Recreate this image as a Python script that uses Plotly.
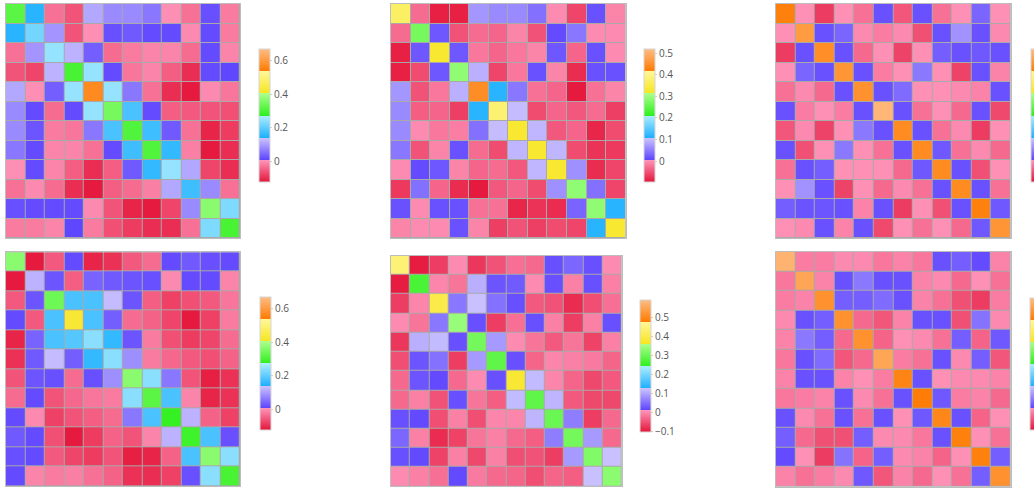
import plotly.graph_objects as go

# ---------------- data (12x12 matrices, rows listed top to bottom) ----------------
M1 = [
    [0.32, 0.15, -0.03, -0.06, 0.11, 0.08, 0.08, 0.06, 0.00, -0.03, 0.02, -0.02],
    [0.15, 0.22, 0.09, -0.06, 0.00, 0.02, 0.03, 0.015, 0.015, -0.005, 0.015, -0.02],
    [-0.03, 0.09, 0.25, 0.12, 0.035, -0.035, -0.02, -0.01, -0.01, -0.035, 0.015, -0.01],
    [-0.06, -0.075, 0.12, 0.30, 0.25, 0.015, -0.025, -0.01, -0.05, -0.10, 0.015, 0.01],
    [0.11, 0.00, 0.035, 0.25, 0.57, 0.25, 0.06, -0.03, -0.10, -0.12, -0.005, -0.025],
    [0.08, 0.015, -0.035, 0.015, 0.25, 0.35, 0.18, 0.015, -0.05, -0.055, -0.06, -0.065],
    [0.08, 0.025, -0.02, -0.025, 0.06, 0.18, 0.31, 0.17, 0.03, -0.03, -0.11, -0.085],
    [0.06, 0.015, -0.01, -0.01, -0.03, 0.015, 0.17, 0.31, 0.16, -0.015, -0.12, -0.10],
    [0.00, 0.015, -0.01, -0.05, -0.10, -0.05, 0.03, 0.16, 0.25, 0.11, -0.075, -0.10],
    [-0.03, -0.005, -0.035, -0.10, -0.12, -0.05, -0.035, -0.015, 0.11, 0.17, 0.08, -0.03],
    [0.02, 0.015, 0.015, 0.015, -0.005, -0.06, -0.11, -0.12, -0.075, 0.08, 0.37, 0.23],
    [-0.02, -0.02, -0.01, 0.01, -0.02, -0.065, -0.085, -0.10, -0.10, -0.03, 0.23, 0.30],
]

M2 = [
    [0.37, -0.03, -0.09, -0.09, 0.07, 0.06, 0.06, 0.04, -0.005, -0.06, 0.015, -0.01],
    [-0.03, 0.27, 0.02, -0.05, -0.03, -0.035, -0.01, -0.05, 0.01, 0.045, -0.005, -0.005],
    [-0.09, 0.02, 0.33, 0.02, -0.02, -0.035, -0.02, -0.01, 0.02, -0.035, 0.015, -0.005],
    [-0.09, -0.055, 0.02, 0.29, 0.09, -0.06, -0.02, 0.015, -0.01, -0.08, 0.015, 0.015],
    [0.07, -0.05, -0.02, 0.09, 0.445, 0.115, 0.045, -0.025, -0.035, -0.095, -0.025, -0.01],
    [0.06, -0.04, -0.035, -0.065, 0.115, 0.38, 0.10, -0.055, -0.035, -0.045, -0.03, -0.065],
    [0.06, -0.005, -0.02, -0.015, 0.04, 0.10, 0.33, 0.095, -0.045, -0.035, -0.085, -0.055],
    [0.045, -0.05, -0.01, 0.015, -0.03, -0.055, 0.095, 0.33, 0.095, -0.055, -0.075, -0.07],
    [-0.005, 0.01, 0.02, -0.01, -0.035, -0.03, -0.045, 0.095, 0.33, 0.065, -0.08, -0.06],
    [-0.07, 0.04, -0.035, -0.08, -0.095, -0.045, -0.035, -0.055, 0.065, 0.29, 0.04, -0.06],
    [0.015, -0.005, 0.015, 0.015, -0.025, -0.025, -0.085, -0.075, -0.08, 0.03, 0.29, 0.115],
    [-0.01, -0.005, -0.005, 0.015, -0.01, -0.065, -0.05, -0.065, -0.055, -0.06, 0.115, 0.33],
]

M3 = [
    [0.41, -0.005, -0.07, -0.005, -0.03, 0.01, -0.05, 0.01, -0.03, -0.005, 0.025, -0.005],
    [-0.005, 0.45, 0.01, 0.025, -0.01, -0.02, -0.01, -0.055, 0.01, 0.06, 0.01, -0.01],
    [-0.07, 0.01, 0.43, 0.01, -0.035, -0.005, -0.065, -0.005, 0.02, 0.01, 0.015, 0.01],
    [-0.005, 0.025, 0.01, 0.44, 0.01, -0.02, -0.005, 0.04, -0.005, -0.065, 0.01, -0.015],
    [-0.03, -0.01, -0.035, 0.01, 0.435, 0.01, 0.03, -0.005, -0.005, -0.01, -0.015, 0.01],
    [0.01, -0.02, -0.005, -0.02, 0.01, 0.49, 0.01, -0.03, -0.005, -0.035, 0.01, -0.06],
    [-0.05, -0.01, -0.065, -0.005, 0.04, 0.01, 0.425, 0.01, -0.03, -0.01, -0.07, -0.005],
    [0.01, -0.055, -0.005, 0.04, -0.005, -0.03, 0.01, 0.425, 0.015, -0.03, -0.01, -0.035],
    [-0.03, 0.01, 0.02, -0.005, -0.005, -0.005, -0.035, 0.015, 0.425, 0.01, -0.055, -0.005],
    [-0.005, 0.06, 0.01, -0.065, -0.005, -0.035, -0.01, -0.03, 0.01, 0.425, 0.01, -0.03],
    [0.02, 0.012, 0.013, 0.01, -0.015, 0.01, -0.07, -0.005, -0.055, 0.01, 0.41, 0.015],
    [-0.005, -0.01, 0.01, -0.015, 0.01, -0.06, -0.005, -0.03, -0.005, -0.035, 0.015, 0.44],
]

M4 = [
    [0.37, -0.12, -0.055, 0.015, -0.11, -0.095, -0.055, -0.035, 0.015, 0.03, 0.02, 0.015],
    [-0.12, 0.12, 0.025, -0.05, 0.04, 0.03, 0.025, 0.02, -0.005, 0.015, 0.015, -0.01],
    [-0.055, 0.025, 0.34, 0.18, 0.18, 0.13, 0.025, -0.05, -0.08, -0.065, -0.055, -0.025],
    [0.015, -0.055, 0.18, 0.43, 0.18, 0.035, -0.035, -0.045, -0.075, -0.12, -0.08, -0.02],
    [-0.11, 0.04, 0.18, 0.19, 0.24, 0.16, 0.025, -0.02, -0.065, -0.085, -0.075, -0.035],
    [-0.095, 0.03, 0.13, 0.035, 0.16, 0.24, 0.085, -0.02, -0.04, -0.055, -0.065, -0.045],
    [-0.06, 0.025, 0.02, -0.035, 0.02, 0.085, 0.37, 0.24, 0.06, -0.06, -0.115, -0.095],
    [-0.035, 0.015, -0.06, -0.04, -0.025, -0.02, 0.24, 0.32, 0.18, -0.01, -0.11, -0.095],
    [0.015, -0.005, -0.08, -0.06, -0.05, -0.035, 0.06, 0.18, 0.28, 0.12, -0.045, -0.08],
    [0.03, 0.015, -0.065, -0.12, -0.085, -0.045, -0.06, -0.01, 0.12, 0.29, 0.18, 0.02],
    [0.02, 0.015, -0.055, -0.075, -0.085, -0.06, -0.115, -0.11, -0.045, 0.18, 0.37, 0.24],
    [0.015, -0.01, -0.02, -0.015, -0.03, -0.045, -0.095, -0.10, -0.08, 0.02, 0.24, 0.30],
]

M5 = [
    [0.44, -0.095, -0.065, 0.005, -0.07, -0.045, -0.02, -0.025, 0.025, 0.045, 0.025, 0.005],
    [-0.095, 0.27, 0.00, -0.015, 0.11, 0.03, 0.035, 0.005, 0.025, -0.005, 0.025, -0.005],
    [-0.065, 0.00, 0.40, 0.06, 0.125, 0.055, 0.025, -0.04, -0.045, -0.08, -0.05, -0.02],
    [0.005, -0.015, 0.06, 0.34, 0.025, -0.065, -0.02, 0.025, -0.005, -0.065, -0.005, 0.025],
    [-0.07, 0.11, 0.12, 0.025, 0.31, 0.09, 0.005, -0.015, -0.04, -0.015, -0.06, -0.005],
    [-0.05, 0.03, 0.055, -0.065, 0.09, 0.29, 0.025, -0.03, 0.00, -0.005, -0.01, -0.03],
    [-0.025, 0.03, 0.02, -0.025, 0.005, 0.025, 0.38, 0.12, 0.00, -0.03, -0.055, -0.04],
    [-0.025, -0.005, -0.045, 0.025, -0.015, -0.035, 0.12, 0.29, 0.115, -0.04, -0.055, -0.055],
    [0.025, 0.02, -0.05, -0.005, -0.05, 0.00, 0.00, 0.115, 0.30, 0.065, -0.065, -0.025],
    [0.045, -0.005, -0.08, -0.06, -0.015, -0.005, -0.025, -0.035, 0.065, 0.31, 0.09, -0.025],
    [0.025, 0.02, -0.06, -0.005, -0.055, -0.005, -0.05, -0.045, -0.065, 0.09, 0.32, 0.125],
    [0.005, -0.005, -0.02, 0.02, -0.01, -0.025, -0.03, -0.05, -0.03, -0.035, 0.125, 0.33],
]

M6 = [
    [0.485, -0.02, -0.02, -0.01, -0.01, -0.025, -0.015, -0.025, 0.01, 0.02, 0.005, -0.015],
    [-0.025, 0.465, -0.015, 0.01, 0.04, 0.01, 0.01, -0.015, -0.01, -0.035, -0.005, -0.03],
    [-0.02, -0.015, 0.435, 0.02, 0.02, 0.03, 0.01, -0.015, -0.03, -0.055, -0.07, -0.02],
    [-0.01, 0.01, 0.02, 0.435, -0.035, -0.05, -0.015, 0.01, 0.01, -0.055, 0.035, -0.01],
    [-0.015, 0.04, 0.02, -0.035, 0.435, -0.04, -0.005, -0.01, -0.03, 0.02, -0.04, 0.015],
    [-0.025, 0.01, 0.03, -0.05, -0.035, 0.465, -0.02, -0.03, 0.01, -0.01, 0.02, -0.05],
    [-0.015, 0.01, 0.01, -0.015, -0.005, -0.02, 0.415, 0.01, -0.005, -0.01, -0.01, -0.015],
    [-0.025, -0.02, -0.015, 0.01, -0.01, -0.03, 0.01, 0.405, 0.015, -0.02, -0.015, -0.035],
    [0.01, -0.01, -0.03, 0.01, -0.03, 0.01, -0.005, 0.015, 0.42, 0.01, -0.04, -0.005],
    [0.02, -0.035, -0.055, -0.055, 0.02, -0.01, -0.01, -0.025, 0.01, 0.41, -0.005, -0.03],
    [0.005, -0.005, -0.07, 0.035, -0.04, 0.02, -0.01, -0.015, -0.04, -0.005, 0.41, 0.02],
    [-0.015, -0.03, -0.02, -0.01, 0.015, -0.05, -0.015, -0.035, -0.005, -0.03, 0.02, 0.435],
]

matrices = [M1, M2, M3, M4, M5, M6]
z_min = [-0.124, -0.098, -0.1, -0.124, -0.1, -0.1]
z_max = [0.67, 0.519, 0.5, 0.67, 0.59, 0.5]
tick_step = [0.2, 0.1, 0.1, 0.2, 0.1, 0.1]
cells = list(range(12))

# ---------------- style / layout ----------------
W, H = 1034, 488

COLORSCALE = [
    [0 / 6, "#e5163a"], [1 / 6, "#ff96bc"],
    [1 / 6, "#5e44ff"], [2 / 6, "#cdc6ff"],
    [2 / 6, "#1eb0ff"], [3 / 6, "#aeeeff"],
    [3 / 6, "#2ef01e"], [4 / 6, "#acff8c"],
    [4 / 6, "#f7e51e"], [5 / 6, "#fff79c"],
    [5 / 6, "#ff7a00"], [6 / 6, "#ffbd84"],
]

# heatmap pixel boxes (left, right, top, bottom)
boxes = [
    (5.7, 240.0, 4.0, 238.3),
    (391.0, 625.7, 4.0, 238.3),
    (775.7, 1010.7, 4.0, 238.3),
    (5.7, 240.0, 252.3, 486.0),
    (390.7, 621.7, 255.7, 486.3),
    (775.7, 1010.7, 251.7, 486.7),
]
# colorbar pixel boxes (left, top, bottom)
cbars = [
    (259.3, 49.3, 182.0),
    (644.3, 49.3, 182.0),
    (1030.7, 49.3, 182.0),
    (259.7, 297.3, 430.0),
    (640.0, 300.0, 431.7),
    (1030.0, 297.7, 430.0),
]
# the third column's colorbar labels fall outside the visible area
show_labels = [True, True, False, True, True, False]

fig = go.Figure()
layout = dict(
    width=W, height=H,
    margin=dict(l=0, r=0, t=0, b=0, autoexpand=False),
    paper_bgcolor="white",
    plot_bgcolor="#a9a9a9",
    font=dict(family="Open Sans, Arial, sans-serif", size=10, color="#555"),
    showlegend=False,
)

for i, m in enumerate(matrices):
    n = i + 1
    xa = "x" if n == 1 else f"x{n}"
    ya = "y" if n == 1 else f"y{n}"
    l, r, t, b = boxes[i]
    cl, ct, cb = cbars[i]
    fig.add_trace(go.Heatmap(
        z=m, x=cells, y=cells, xaxis=xa, yaxis=ya,
        zmin=z_min[i], zmax=z_max[i], colorscale=COLORSCALE,
        xgap=1, ygap=1,
        colorbar=dict(
            x=cl / W, xanchor="left", xpad=0, ypad=0,
            y=1 - (ct + cb) / 2 / H, yanchor="middle",
            len=(cb - ct) / H, lenmode="fraction",
            thickness=11, thicknessmode="pixels",
            outlinewidth=1, outlinecolor="#d6d6d6",
            tickmode="linear", tick0=0, dtick=tick_step[i],
            ticks="outside", ticklen=2, tickcolor="#cccccc",
            showticklabels=show_labels[i],
            tickfont=dict(size=10, color="#555"),
        ),
    ))
    axis_common = dict(
        range=[-0.5, 11.5], showgrid=False, zeroline=False,
        showticklabels=False, ticks="", showline=True, mirror=True,
        linecolor="#bdbdbd", linewidth=1,
    )
    layout["xaxis" if n == 1 else f"xaxis{n}"] = dict(
        axis_common, domain=[l / W, r / W], anchor=ya)
    layout["yaxis" if n == 1 else f"yaxis{n}"] = dict(
        axis_common, range=[11.5, -0.5], domain=[1 - b / H, 1 - t / H], anchor=xa)

fig.update_layout(**layout)
fig.write_html(
    "out.html",
    config={"displayModeBar": False},
    post_script="document.body.style.margin='0px';document.body.style.overflow='hidden';",
)
